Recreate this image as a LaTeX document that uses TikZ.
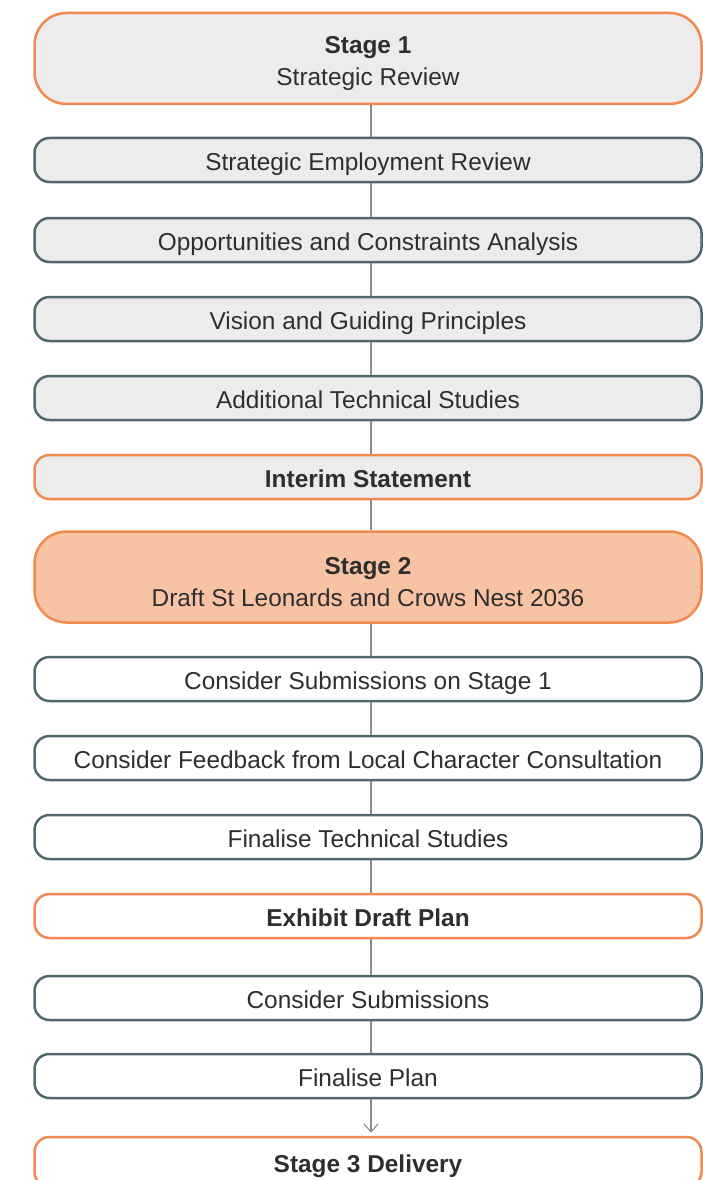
\documentclass[tikz,border=0pt]{standalone}
\usepackage{fontspec}
\setmainfont{Liberation Sans}
\usetikzlibrary{arrows.meta}

\definecolor{stageorange}{HTML}{F08A50}
\definecolor{stepslate}{HTML}{52686F}
\definecolor{panelgray}{HTML}{ECECEC}
\definecolor{stagepeach}{HTML}{F8C3A4}
\definecolor{inkgray}{HTML}{2E2E2E}
\definecolor{linkgray}{HTML}{8A8A8A}

\begin{document}
\begin{tikzpicture}[x=1pt, y=-1pt,
    every node/.style={text=inkgray, font=\fontsize{24.4}{31.5}\selectfont, align=center, inner sep=0pt},
    stagebox/.style={draw=stageorange, line width=2.5pt, rounded corners=32pt, minimum width=667pt, minimum height=91pt},
    stepbox/.style={draw=stepslate, line width=2.5pt, rounded corners=15pt, minimum width=667pt, minimum height=44pt,
                    text height=21.6pt, text depth=0pt},
    milebox/.style={stepbox, draw=stageorange, font=\fontsize{24.4}{31.5}\selectfont\bfseries},
    link/.style={draw=linkgray, line width=1.1pt}]
      \useasboundingbox (0,0) rectangle (703,1180);
      \clip (0,0) rectangle (703,1180);
      \coordinate (spine) at (371,0);

      % stage 1
      \node[stagebox, fill=panelgray] (stage1) at (368,58.5) {\rule{0pt}{27pt}\textbf{Stage 1}\\Strategic Review};
      \node[stepbox, fill=panelgray] (ser) at (368,160) {Strategic Employment Review};
      \node[stepbox, fill=panelgray] (oca) at (368,240) {Opportunities and Constraints Analysis};
      \node[stepbox, fill=panelgray] (vgp) at (368,319) {Vision and Guiding Principles};
      \node[stepbox, fill=panelgray] (ats) at (368,398) {Additional Technical Studies};
      \node[milebox, fill=panelgray] (interim) at (368,477) {Interim Statement};

      % stage 2
      \node[stagebox, fill=stagepeach] (stage2) at (368,577) {\rule{0pt}{27pt}\textbf{Stage 2}\\Draft St Leonards and Crows Nest 2036};
      \node[stepbox, fill=white] (css) at (368,679) {Consider Submissions on Stage 1};
      \node[stepbox, fill=white] (cfl) at (368,758) {Consider Feedback from Local Character Consultation};
      \node[stepbox, fill=white] (fts) at (368,837) {Finalise Technical Studies};
      \node[milebox, fill=white] (edp) at (368,916) {Exhibit Draft Plan};
      \node[stepbox, fill=white] (cs) at (368,998) {Consider Submissions};
      \node[stepbox, fill=white] (fp) at (368,1076) {Finalise Plan};

      % stage 3
      \node[milebox, fill=white, minimum height=50pt] (stage3) at (368,1162) {Stage 3 Delivery};

      \foreach \a/\b in {stage1/ser, ser/oca, oca/vgp, vgp/ats, ats/interim, interim/stage2,
                         stage2/css, css/cfl, cfl/fts, fts/edp, edp/cs, cs/fp}
        \draw[link] (\a.south -| spine) -- (\b.north -| spine);
      \draw[link, -{Straight Barb[length=8pt, width=14pt]}] (fp.south -| spine) -- ([yshift=3pt]stage3.north -| spine);
    \end{tikzpicture}
\end{document}
